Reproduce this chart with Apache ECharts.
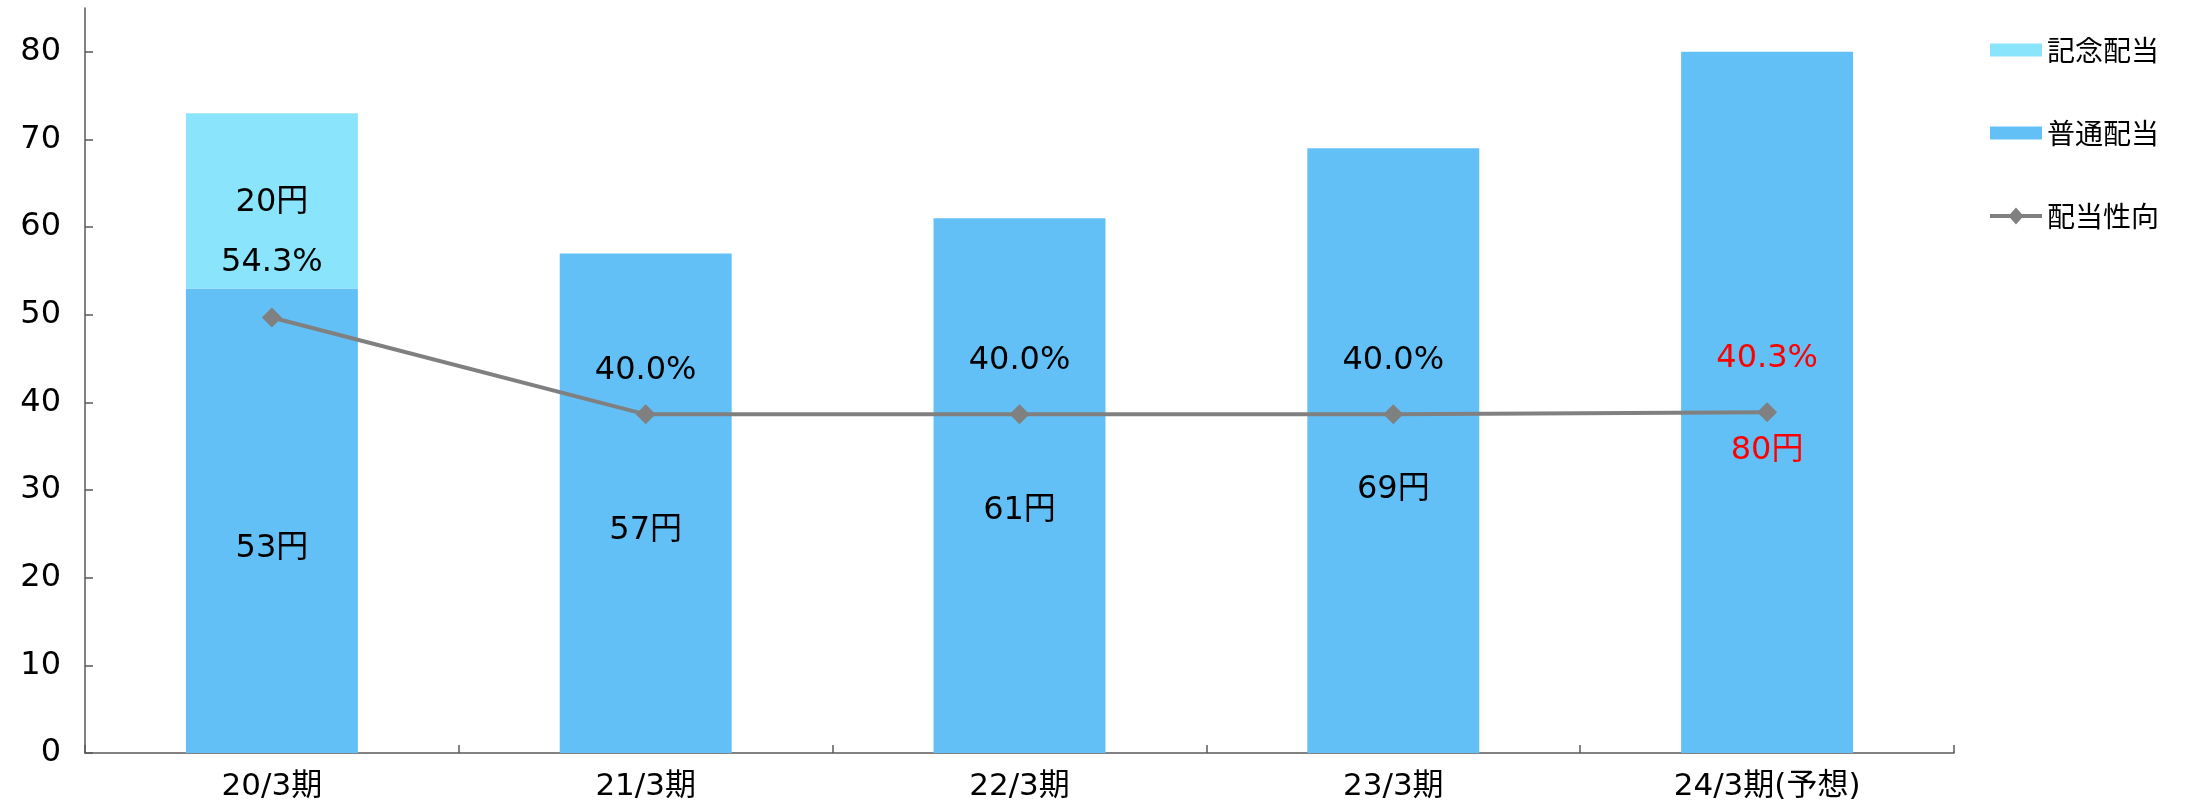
<!DOCTYPE html>
<html>
<head>
<meta charset="utf-8">
<script src="https://cdn.jsdelivr.net/npm/echarts@6/dist/echarts.min.js"></script>
<style>
  html, body { margin: 0; padding: 0; background: #fff; }
  #chart { width: 2185px; height: 807px; }
</style>
</head>
<body>
<div id="chart"></div>
<script>
// Fiscal periods
const categories = ['20/3期', '21/3期', '22/3期', '23/3期', '24/3期(予想)'];
// Ordinary dividend per share (円)
const ordinaryDividend = [53, 57, 61, 69, 80];
// Commemorative dividend per share (円)
const commemorativeDividend = [20, null, null, null, null];
// Payout ratio (%)
const payoutRatio = [54.3, 40.0, 40.0, 40.0, 40.3];
// Left axis tick values
const yTicks = [0, 10, 20, 30, 40, 50, 60, 70, 80];

const FONT = '"DejaVu Sans", "Noto Sans CJK JP", sans-serif';
const CJK_FONT = '"Noto Sans CJK JP", sans-serif';
const forecastIdx = categories.length - 1;
const RED = '#ff0000';

// per-point vertical nudges for the dividend labels inside the bars
const ordLabelShift = [28, 27, 25, 39, 48];
// distance of the payout labels above their markers
const ratioLabelDist = [29, 18, 28, 28, 28];

// legend icons: bar swatch (13px high inside a 17px box) and line-with-diamond
const BAR_ICON = 'path://M0,0L0,0M0,2L52,2L52,15L0,15ZM52,17L52,17';
const LINE_ICON = 'path://M0,6.6L20.18,6.6L26,0L31.82,6.6L52,6.6L52,10.4L31.82,10.4L26,17L20.18,10.4L0,10.4Z';

const chart = echarts.init(document.getElementById('chart'));

chart.setOption({
  backgroundColor: '#ffffff',
  animation: false,
  textStyle: { fontFamily: FONT },
  grid: { left: 85, right: 231, top: 8, bottom: 54 },
  legend: {
    orient: 'vertical',
    left: 1985,
    top: 31,
    itemWidth: 52,
    itemHeight: 17,
    itemGap: 55,
    textStyle: { fontFamily: CJK_FONT, fontSize: 28, color: '#000', lineHeight: 28 },
    data: [
      { name: '記念配当', icon: BAR_ICON },
      { name: '普通配当', icon: BAR_ICON },
      { name: '配当性向', icon: LINE_ICON, itemStyle: { color: '#808080' } }
    ]
  },
  xAxis: {
    type: 'category',
    data: categories,
    boundaryGap: true,
    axisLine: { lineStyle: { color: '#595959', width: 1.5 } },
    axisTick: { show: true, inside: true, length: 8, lineStyle: { color: '#595959', width: 1.5 } },
    axisLabel: { color: '#000', fontSize: 31, fontFamily: FONT, margin: 18 }
  },
  yAxis: [
    {
      type: 'value',
      min: 0,
      max: 85,
      interval: 10,
      splitLine: { show: false },
      axisLine: { show: true, lineStyle: { color: '#595959', width: 1.5 } },
      axisTick: { show: true, inside: true, length: 8, customValues: yTicks, lineStyle: { color: '#595959', width: 1.5 } },
      axisLabel: { color: '#000', fontSize: 32, fontFamily: FONT, margin: 24, customValues: yTicks }
    },
    {
      type: 'value',
      min: -10,
      max: 100,
      show: false,
      splitLine: { show: false }
    }
  ],
  series: [
    {
      name: '普通配当',
      type: 'bar',
      stack: 'dividend',
      barWidth: '46%',
      itemStyle: { color: '#63c0f6' },
      data: ordinaryDividend.map((v, i) => ({
        value: v,
        label: {
          show: true,
          position: 'inside',
          offset: [0, ordLabelShift[i]],
          formatter: v + '円',
          color: i === forecastIdx ? RED : '#000',
          fontSize: 32,
          fontFamily: FONT
        }
      })),
      z: 2
    },
    {
      name: '記念配当',
      type: 'bar',
      stack: 'dividend',
      barWidth: '46%',
      itemStyle: { color: '#8ae4fb' },
      label: {
        show: true,
        position: 'inside',
        offset: [0, 2],
        formatter: p => (p.value == null ? '' : p.value + '円'),
        color: '#000',
        fontSize: 32,
        fontFamily: FONT
      },
      data: commemorativeDividend,
      z: 2
    },
    {
      name: '配当性向',
      type: 'line',
      yAxisIndex: 1,
      symbol: 'diamond',
      symbolSize: 20,
      lineStyle: { color: '#808080', width: 4 },
      itemStyle: { color: '#808080' },
      data: payoutRatio.map((v, i) => ({
        value: v,
        label: {
          show: true,
          position: 'top',
          distance: ratioLabelDist[i],
          formatter: v.toFixed(1) + '%',
          color: i === forecastIdx ? RED : '#000',
          fontSize: 32,
          fontFamily: FONT
        }
      })),
      z: 5
    }
  ]
});
</script>
</body>
</html>
